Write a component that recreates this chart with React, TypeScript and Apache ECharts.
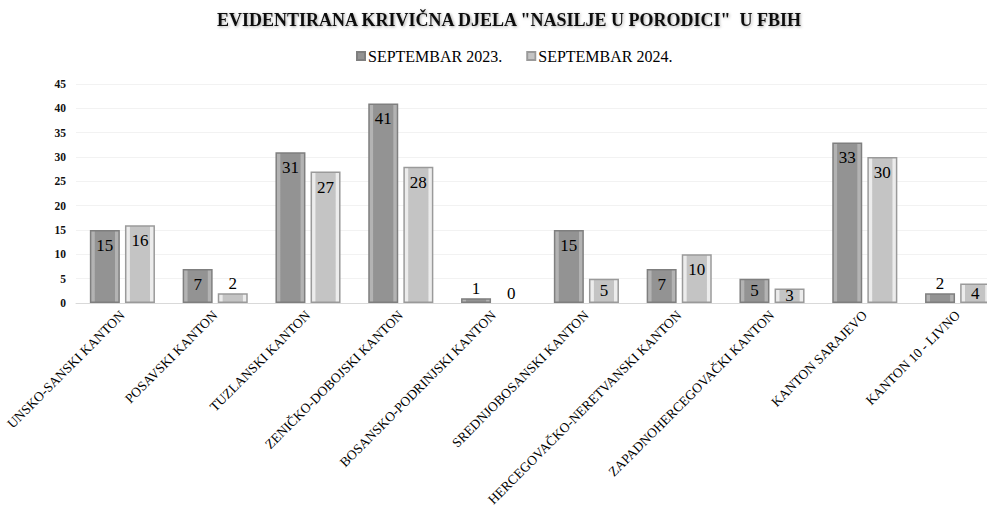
import React, { useEffect, useRef } from "react";
import * as echarts from "echarts";

const categories = [
  "UNSKO-SANSKI KANTON",
  "POSAVSKI KANTON",
  "TUZLANSKI KANTON",
  "ZENIČKO-DOBOJSKI KANTON",
  "BOSANSKO-PODRINJSKI KANTON",
  "SREDNJOBOSANSKI KANTON",
  "HERCEGOVAČKO-NERETVANSKI KANTON",
  "ZAPADNOHERCEGOVAČKI KANTON",
  "KANTON SARAJEVO",
  "KANTON 10 - LIVNO",
];
const series2023 = [15, 7, 31, 41, 1, 15, 7, 5, 33, 2];
const series2024 = [16, 2, 27, 28, 0, 5, 10, 3, 30, 4];
const seriesNames = ["SEPTEMBAR 2023.", "SEPTEMBAR 2024."];
const titleText = 'EVIDENTIRANA KRIVIČNA DJELA "NASILJE U PORODICI"  U FBIH';

const FONT = "'Liberation Serif', 'DejaVu Serif', serif";

function bevel(edge: string, mid: string) {
  return new echarts.graphic.LinearGradient(0, 0, 1, 0, [
    { offset: 0, color: edge },
    { offset: 0.13, color: edge },
    { offset: 0.16, color: mid },
    { offset: 0.84, color: mid },
    { offset: 0.87, color: edge },
    { offset: 1, color: edge },
  ]);
}

function buildData(values: number[]) {
  return values.map((v) => ({
    value: v,
    itemStyle: v === 0 ? { borderWidth: 0 } : undefined,
    label:
      v <= 2
        ? { position: "top", distance: 1 }
        : v <= 5
        ? { position: "inside" }
        : { position: "insideTop", distance: 7 },
  }));
}

export default function App() {
  const ref = useRef<HTMLDivElement>(null);
  useEffect(() => {
    if (!ref.current) return;
    const chart = echarts.init(ref.current, null, { renderer: "svg" });
    const labelStyle = {
      show: true,
      color: "#000",
      fontFamily: FONT,
      fontSize: 17,
    };
    chart.setOption({
      animation: false,
      backgroundColor: "#ffffff",
      title: {
        text: titleText,
        left: 212,
        top: 6,
        textStyle: {
          fontFamily: FONT,
          fontWeight: "bold",
          fontSize: 18,
          color: "#111",
          textShadowColor: "rgba(0,0,0,0.35)",
          textShadowBlur: 3,
          textShadowOffsetX: 1,
          textShadowOffsetY: 1,
        },
      },
      legend: {
        top: 43,
        left: 351,
        itemWidth: 8,
        itemHeight: 8,
        itemGap: 24,
        icon: "rect",
        textStyle: { fontFamily: FONT, fontSize: 16, color: "#000", padding: [0, 0, 0, -2] },
        data: seriesNames,
      },
      grid: {
        left: 76,
        width: 928,
        top: 84,
        bottom: 208,
        containLabel: false,
        outerBoundsMode: "none",
      },
      xAxis: {
        type: "category",
        data: categories,
        axisLine: { show: true, lineStyle: { color: "#d9d9d9" } },
        axisTick: { show: false },
        axisLabel: {
          rotate: 45,
          interval: 0,
          fontFamily: FONT,
          fontSize: 13.5,
          color: "#000",
          margin: 10,
        },
      },
      yAxis: {
        type: "value",
        min: 0,
        max: 45,
        interval: 5,
        axisLine: { show: false },
        axisTick: { show: false },
        splitLine: { lineStyle: { color: "#f2f2f2" } },
        axisLabel: {
          fontFamily: FONT,
          fontSize: 11.5,
          fontWeight: "bold",
          color: "#111",
          margin: 10,
        },
      },
      series: [
        {
          name: seriesNames[0],
          type: "bar",
          barWidth: 30,
          barGap: "17%",
          data: buildData(series2023),
          itemStyle: {
            color: bevel("#b3b3b3", "#939393"),
            borderColor: "#7f7f7f",
            borderWidth: 1.5,
          },
          label: labelStyle,
        },
        {
          name: seriesNames[1],
          type: "bar",
          barWidth: 30,
          data: buildData(series2024),
          itemStyle: {
            color: bevel("#ececec", "#c4c4c4"),
            borderColor: "#9a9a9a",
            borderWidth: 1.5,
          },
          label: labelStyle,
        },
      ],
    });
    return () => chart.dispose();
  }, []);
  return (
    <div
      ref={ref}
      style={{ position: "fixed", left: 0, top: 0, width: 987, height: 511 }}
    />
  );
}
